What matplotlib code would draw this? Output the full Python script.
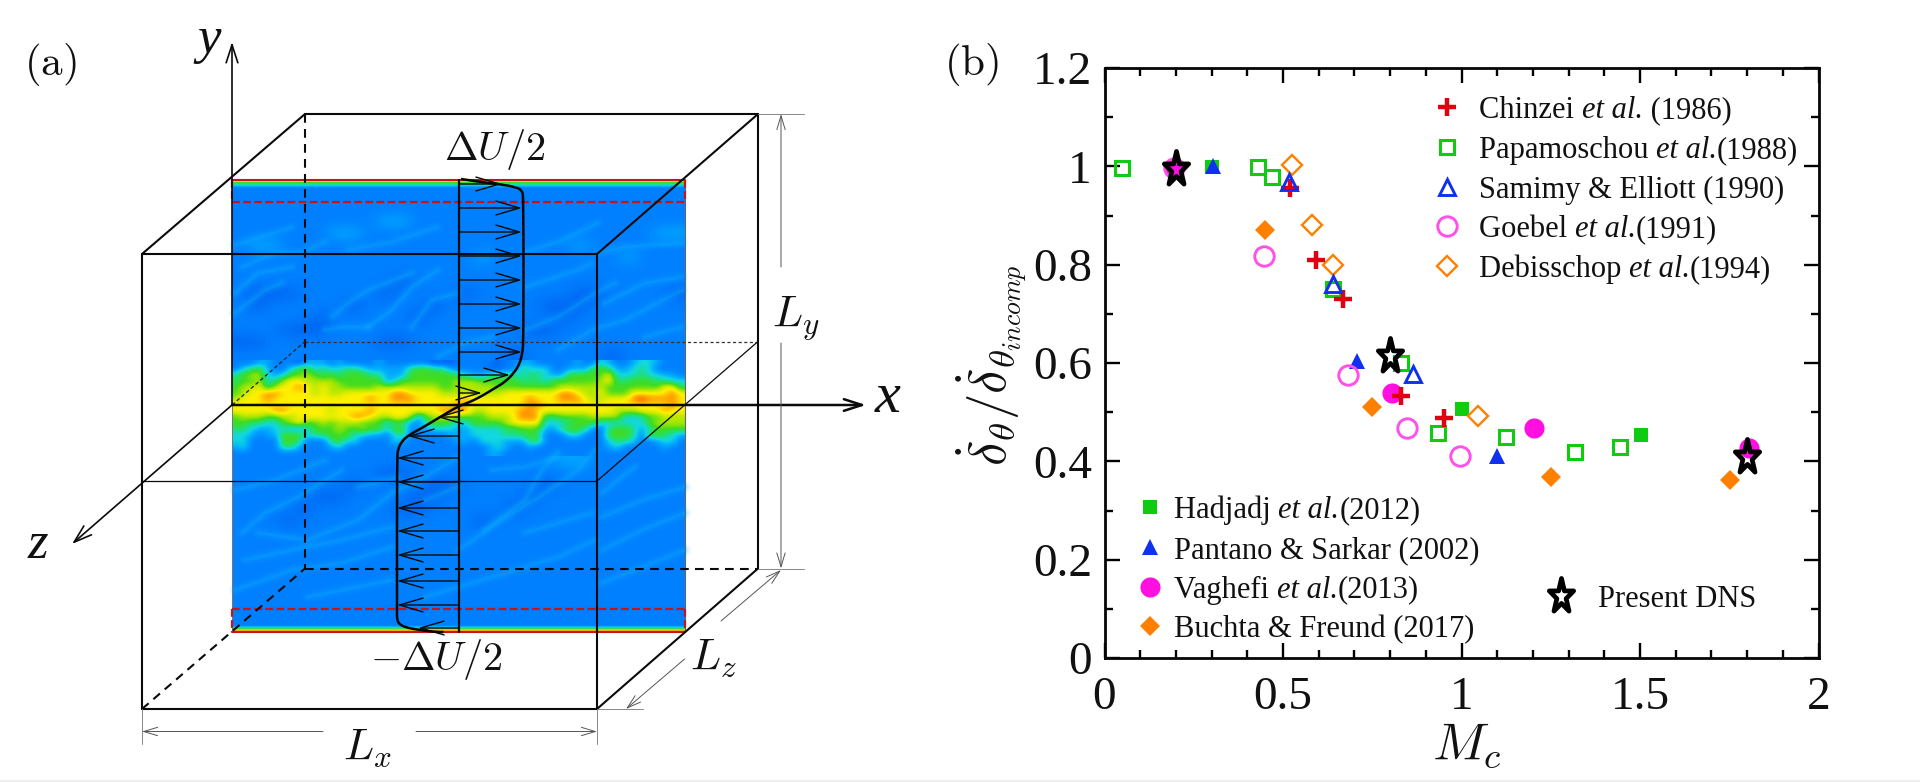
import numpy as np
import matplotlib
matplotlib.use("Agg")
import matplotlib.pyplot as plt
from matplotlib.colors import LinearSegmentedColormap
from matplotlib.markers import MarkerStyle
from matplotlib.path import Path
from matplotlib.patches import PathPatch, Rectangle
from matplotlib.transforms import Affine2D

plt.rcParams['font.family'] = ['Liberation Serif', 'DejaVu Serif']
plt.rcParams['mathtext.fontset'] = 'cm'

W, H = 1920, 782

# ---------- panel (b) data ----------
chinzei_x = [0.521, 0.593, 0.669, 0.83, 0.95]
chinzei_y = [0.956, 0.81, 0.73, 0.533, 0.489]
papam_x = [0.05, 0.43, 0.47, 0.64, 0.83, 0.935, 1.125, 1.317, 1.445]
papam_y = [0.996, 0.998, 0.978, 0.75, 0.60, 0.458, 0.45, 0.42, 0.43]
samimy_x = [0.518, 0.64, 0.865]
samimy_y = [0.968, 0.76, 0.577]
goebel_x = [0.195, 0.446, 0.683, 0.846, 0.997]
goebel_y = [0.996, 0.818, 0.575, 0.467, 0.41]
debis_x = [0.525, 0.58, 0.64, 1.045]
debis_y = [1.002, 0.88, 0.80, 0.492]
hadjadj_x = [0.30, 1.0, 1.503]
hadjadj_y = [0.998, 0.507, 0.454]
pantano_x = [0.304, 0.707, 1.10]
pantano_y = [1.0, 0.604, 0.41]
vaghefi_x = [0.195, 0.805, 1.204, 1.805]
vaghefi_y = [0.996, 0.54, 0.467, 0.428]
buchta_x = [0.45, 0.748, 1.252, 1.752]
buchta_y = [0.87, 0.51, 0.368, 0.362]
dns_x = [0.2, 0.80, 1.80]
dns_y = [0.994, 0.614, 0.408]

x_ticks = [0, 0.5, 1, 1.5, 2]
x_tick_labels = ['0', '0.5', '1', '1.5', '2']
y_ticks = [0, 0.2, 0.4, 0.6, 0.8, 1, 1.2]
y_tick_labels = ['0', '0.2', '0.4', '0.6', '0.8', '1', '1.2']

# ---------- panel (a) field, hand-read colour levels ----------
field_levels = ['#0048DC', '#0066F4', '#0080FF', '#00A8FF', '#10D8E0', '#20E070',
                '#40DC20', '#B0E800', '#FFF000', '#FF9000', '#F03000']
field_cmap = LinearSegmentedColormap.from_list('field', field_levels)

field_top = [
    "2222222222222222222222222222",
    "2222222222222222222222222222",
    "2222222222222222222222222222",
    "2222222223322222222222222222",
    "2222223322222222222222222233",
    "2332222222222222222223222222",
    "2222222222222223222222223222",
    "2222222222222222222222222222",
    "2222222222122222222222222222",
    "2111222221222212222221122221",
    "2122222122221222222111222222",
    "2222212222212222222212222222",
    "2221112222222222221122222222",
    "1122222221122222222222222222",
    "2222222222222222212222212222",
]
field_band = [
    "2223322213" "3323222232" "2222211122" "2221223322" "2223224322" "3443222",
    "2456322466" "4544554333" "3356655322" "2211225444" "2233366533" "4542222",
    "5677434667" "6565666553" "3366666654" "3355554554" "3366666844" "4544332",
    "5667457887" "7776666663" "4666666677" "7666665554" "6666667855" "6665544",
    "6778578898" "7877666677" "7777776677" "7776666666" "6777777666" "6666885",
    "6788998888" "7877888888" "9988887777" "7777888888" "8998778666" "8888898",
    "7888988888" "8888888988" "9998888889" "8888888988" "8999877888" "9A99998",
    "8888888888" "8888888888" "8888888898" "8888888998" "8888888888" "8888898",
    "8888899888" "8878888988" "8888889999" "7788889988" "8888888877" "7888988",
    "6777667788" "8888899877" "8873677866" "6677789995" "5666677774" "4466777",
    "6655446786" "6767776664" "5532566544" "6666788884" "4456664444" "4467777",
    "5543344334" "6667667664" "6623344433" "4444556663" "3566522566" "5346666",
    "4432336664" "5566644332" "4522222333" "4444555652" "2244222666" "5266543",
    "4422226652" "2256442222" "4322222233" "2444333562" "2222222455" "4223442",
    "3422225532" "2234222222" "2222222222" "2234322322" "2222222342" "2222322",
    "2222222222" "2222222222" "2222222222" "2233222222" "2222222222" "2222222",
]
field_bottom = [
    "2222222222222222222233222222",
    "2222222221122222222222222222",
    "2222222122221122222122222222",
    "2222211222211222221222222222",
    "2222122222112222212222222222",
    "2221222222222221222222222222",
    "2222222222222222222222222222",
    "2222222222222222222222222222",
    "2222222222222222222222222222",
    "2222222222222222222222222222",
    "2222222222222222222222222222",
    "2222222222222222222222222222",
    "2222222222222222222222222222",
    "2222222222222222222222222222",
    "2222222222222222222222222222",
]
edge_top = "A8654322"
edge_bottom = "2223468A"

# light streaks (image pixels)
streaks = [
    [(235, 245), (258, 238), (292, 227)],
    [(242, 267), (275, 253), (302, 252), (325, 242)],
    [(348, 250), (392, 242), (438, 227)],
    [(525, 252), (558, 242), (598, 223)],
    [(598, 253), (625, 247), (682, 243)],
    [(235, 293), (258, 273), (292, 267)],
    [(235, 313), (265, 290), (282, 283)],
    [(332, 317), (348, 303), (368, 290), (412, 273)],
    [(368, 327), (392, 310), (412, 287), (438, 270)],
    [(412, 327), (432, 300), (458, 293)],
    [(325, 330), (342, 327), (368, 327)],
    [(525, 330), (558, 317), (592, 295), (615, 283)],
    [(558, 350), (592, 330), (625, 320), (682, 290)],
    [(605, 303), (645, 283), (682, 277)],
    [(438, 357), (465, 343), (492, 337)],
    [(645, 337), (682, 327)],
    [(525, 287), (578, 270), (592, 263)],
    [(242, 533), (265, 513), (298, 497), (342, 470)],
    [(235, 490), (275, 480), (325, 460)],
    [(258, 533), (308, 540), (358, 520), (392, 493), (425, 477), (458, 457)],
    [(245, 560), (292, 550), (342, 540), (392, 527)],
    [(458, 550), (502, 520), (545, 493), (578, 470), (595, 450)],
    [(485, 530), (525, 500), (542, 470), (558, 452)],
    [(492, 470), (525, 467), (558, 457)],
    [(602, 517), (642, 500), (685, 487)],
    [(602, 550), (642, 530), (685, 513)],
    [(602, 493), (618, 480), (635, 467)],
    [(525, 533), (592, 513)],
    [(235, 590), (292, 570), (342, 563), (392, 547)],
    [(425, 597), (492, 577), (558, 557), (595, 540)],
    [(602, 583), (685, 550)],
    [(308, 597), (392, 580)],
    [(425, 500), (458, 487)],
    [(358, 487), (398, 477)],
]

# ---------- panel (a) sketch geometry (image pixels) ----------
back_l, back_r, back_t, back_b = 305, 758, 114, 568.5
front_l, front_r, front_t, front_b = 142, 597, 254, 709
mid_l, mid_r, mid_t, mid_b = 232, 685, 179.5, 632
mid_y = 405
back_mid_y = 341.5
front_mid_y = 481
red_top_y, red_bot_y = 201.7, 609.3
prof_x = 459
profile_pts = [(461, 179), (480, 182), (502, 184.5), (515, 187), (522, 190), (523.5, 198),
               (523.5, 340), (522.5, 352), (520, 363), (514, 373), (505, 382), (495, 388),
               (482, 396), (470, 402), (459, 406), (445, 414), (432, 422), (420, 429),
               (409, 435), (402, 441), (398, 449), (397, 458), (397, 612), (397, 620),
               (400, 625), (408, 628), (420, 630), (435, 632), (452, 632)]
arrow_y = [184, 208, 232, 256, 280, 304, 328, 352, 375, 393,
           417, 436, 458, 482, 508, 531, 555, 581, 605, 628]
arrow_tip = [502, 522, 522, 522, 522, 522, 522, 522, 510, 482,
             437, 408, 397, 397, 397, 397, 397, 397, 397, 418]

fig = plt.figure(figsize=(W / 100, H / 100), dpi=100, facecolor='white')
a0 = fig.add_axes([0, 0, 1, 1])
a0.set_xlim(0, W)
a0.set_ylim(H, 0)
a0.axis('off')
a0.autoscale(False)


def to_array(rows):
    return np.array([[int(c, 16) for c in r] for r in rows], float)


def paint(rows, y0, y1, interp='bicubic', z=1):
    a0.imshow(to_array(rows), extent=(mid_l, mid_r, y1, y0), aspect='auto', cmap=field_cmap,
              vmin=0, vmax=10, interpolation=interp, zorder=z)


paint(field_top, 179, 360)
paint(field_band, 360, 456)
paint(field_bottom, 456, 632)
paint([c for c in edge_top], 179, 190, 'bilinear', 1.1)
paint([c for c in edge_bottom], 623, 632.5, 'bilinear', 1.1)
for st in streaks:
    xs, ys = zip(*st)
    for width, alpha in [(9, 0.07), (6, 0.09), (3.5, 0.12), (1.8, 0.14)]:
        a0.plot(xs, ys, color='#10B8FF', lw=width, alpha=alpha, zorder=1.2, solid_capstyle='round',
                solid_joinstyle='round')


def seg(x0, y0, x1, y1, lw=1.5, ls='-', c='#0A0A0A', z=3):
    a0.plot([x0, x1], [y0, y1], color=c, lw=lw, ls=ls, zorder=z, solid_capstyle='round', dash_capstyle='butt')


dash = (0, (4.2, 3))
# field border
seg(mid_l, 405, mid_l, mid_b, 0.7, c='#777777', z=2)
seg(mid_r, mid_t, mid_r, mid_b, 0.8, c='#666666', z=2)
# back box
seg(back_l, back_t, back_r, back_t)
seg(back_r, back_t, back_r, back_b)
seg(back_l, back_t, back_l, back_b, ls=dash)
seg(back_l, back_b, back_r, back_b, ls=dash)
seg(front_l, front_b, back_l, back_b, ls=dash)
seg(front_l, front_t, back_l, back_t)
seg(front_r, front_t, back_r, back_t)
seg(front_r, front_b, back_r, back_b)
# front box
seg(front_l, front_t, front_r, front_t)
seg(front_l, front_b, front_r, front_b)
seg(front_l, front_t, front_l, front_b)
seg(front_r, front_t, front_r, front_b)
# mid planes
seg(back_l, back_mid_y, back_r, back_mid_y, 0.9, (0, (2.5, 2)), '#333333')
seg(mid_l, mid_y, back_l, back_mid_y, 0.9, (0, (3, 2)), '#222222')
seg(front_l, front_mid_y, front_r, front_mid_y, 0.9)
seg(front_r, front_mid_y, back_r, back_mid_y, 0.9)
# red sponge boxes
red = '#C81414'
for y0, y1, ysolid, ydash in [(mid_t, red_top_y, mid_t, red_top_y), (red_bot_y, mid_b, mid_b, red_bot_y)]:
    seg(mid_l, ysolid, mid_r, ysolid, 1.5, c=red, z=2.5)
    seg(mid_l, ydash, mid_r, ydash, 1.6, (0, (3.5, 1.5)), red, 2.5)
    seg(mid_l, y0, mid_l, y1, 1.6, (0, (3.5, 1.5)), red, 2.5)
    seg(mid_r, y0, mid_r, y1, 1.6, (0, (3.5, 1.5)), red, 2.5)


def arrow(tail, tip, lw=1.2, hl=1.3, hw=0.42, c='#0A0A0A', z=4):
    a0.annotate('', xy=tip, xytext=tail, zorder=z, annotation_clip=False,
                arrowprops=dict(arrowstyle=f'->,head_length={hl},head_width={hw}', lw=lw, color=c,
                                shrinkA=0, shrinkB=0, mutation_scale=10))


# coordinate axes
arrow((mid_l, mid_y), (mid_l, 42))
arrow((mid_l, mid_y), (866, mid_y), 1.8)
arrow((mid_l, mid_y), (72, 544))

# profile
seg(prof_x, mid_t, prof_x, mid_b, 1.6)
for yy, tip in zip(arrow_y, arrow_tip):
    arrow((prof_x, yy), (tip, yy), 1.0, 1.7, 0.5)
p = np.array(profile_pts, float)
mids = (p[:-1] + p[1:]) / 2
verts = [p[0]]
codes = [Path.MOVETO]
for i in range(1, len(p) - 1):
    verts += [p[i], mids[i]]
    codes += [Path.CURVE3, Path.CURVE3]
a0.add_patch(PathPatch(Path(verts, codes), fc='none', ec='#050505', lw=1.8, zorder=5))

# dimension lines
grey = '#555555'
seg(back_r, back_t, 804, back_t, 0.7, c='#888888')
seg(back_r, back_b, 804, back_b, 0.7, c='#888888')
arrow((781, 267), (781, back_t), 0.7, 1.0, 0.3, grey)
arrow((781, 343), (781, back_b), 0.7, 1.0, 0.3, grey)
seg(front_l, front_b, front_l, 744, 0.7, c='#888888')
seg(front_r, front_b, front_r, 744, 0.7, c='#888888')
seg(front_r, front_b, 643, front_b, 0.7, c='#888888')
arrow((323, 731.5), (front_l, 731.5), 0.7, 1.0, 0.3, grey)
arrow((416, 731.5), (front_r, 731.5), 0.7, 1.0, 0.3, grey)
arrow((721, 621), (781, 570), 0.7, 1.0, 0.3, grey)
arrow((684.6, 659), (626, 709), 0.7, 1.0, 0.3, grey)


def label(x, y, s, size, **kw):
    a0.text(x, y, s, fontsize=size, ha='center', va='center', color='#111111', zorder=6, **kw)


label(50, 64, r'$\mathrm{(a)}$', 31)
label(972, 64, r'$\mathrm{(b)}$', 31)
label(209, 40, 'y', 38, style='italic')
label(888, 398, 'x', 42, style='italic')
label(38, 545, 'z', 38, style='italic')
label(495, 150, r'$\Delta U/2$', 29)
label(436, 659, r'$-\Delta U/2$', 29)
label(796, 318, r'$L_y$', 32)
label(367, 748, r'$L_x$', 32)
label(713, 658, r'$L_z$', 32)

# ---------- panel (b) ----------
ax_l, ax_r, ax_t, ax_b = 1104.5, 1818.5, 68, 658
ax = fig.add_axes([ax_l / W, 1 - ax_b / H, (ax_r - ax_l) / W, (ax_b - ax_t) / H])
ax.patch.set_alpha(0)
ax.set_xlim(0, 2)
ax.set_ylim(0, 1.2)
for s in ax.spines.values():
    s.set_linewidth(2.0)
    s.set_color('#050505')
ax.set_xticks(x_ticks, x_tick_labels)
ax.set_yticks(y_ticks, y_tick_labels)
ax.set_xticks(np.arange(0, 2.01, 0.1), minor=True)
ax.set_yticks(np.arange(0, 1.21, 0.1), minor=True)
ax.tick_params(which='major', direction='in', length=11, width=1.7, top=True, right=True, labelsize=34, pad=9)
ax.tick_params(which='minor', direction='in', length=6, width=1.7, top=True, right=True)
ax.tick_params(axis='x', which='major', pad=13)
for t in ax.get_xticklabels() + ax.get_yticklabels():
    t.set_color('#111111')

GREEN, BLUE, MAG, ORG, RED = '#10CC10', '#1030F0', '#FF10E0', '#FF8000', '#E00010'
star_path = MarkerStyle('*').get_path().transformed(Affine2D().scale(0.85, 1.2))
st_pl = dict(marker='+', ms=12.5, mew=3.2, color=RED, ls='none')
st_ps = dict(marker='s', ms=10.5, mew=2.2, mfc='none', mec=GREEN, ls='none')
st_st = dict(marker='^', ms=11, mew=2.1, mfc='none', mec=BLUE, ls='none')
st_gc = dict(marker='o', ms=14, mew=2.1, mfc='none', mec='#FF50E8', ls='none')
st_dd = dict(marker='D', ms=10, mew=1.7, mfc='none', mec=ORG, ls='none')
st_hj = dict(marker='s', ms=10.5, mew=0, color=GREEN, ls='none')
st_pa = dict(marker='^', ms=12, mew=0, color=BLUE, ls='none')
st_va = dict(marker='o', ms=14.5, mew=0, color=MAG, ls='none')
st_bu = dict(marker='D', ms=10, mew=0, color=ORG, ls='none')
st_dn = dict(marker=star_path, ms=26, mew=3.4, mfc='none', mec='#000000', ls='none')

ax.plot(hadjadj_x, hadjadj_y, zorder=3, **st_hj)
ax.plot(vaghefi_x, vaghefi_y, zorder=3, **st_va)
ax.plot(pantano_x, pantano_y, zorder=3.1, **st_pa)
ax.plot(buchta_x, buchta_y, zorder=3, **st_bu)
ax.plot(papam_x, papam_y, zorder=3.2, **st_ps)
ax.plot(goebel_x, goebel_y, zorder=3.2, **st_gc)
ax.plot(debis_x, debis_y, zorder=3.2, **st_dd)
ax.plot(chinzei_x, chinzei_y, zorder=3.3, **st_pl)
ax.plot(samimy_x, samimy_y, zorder=3.4, **st_st)
ax.plot(dns_x, dns_y, zorder=4, **st_dn)

a0.set_zorder(2)
ax.set_zorder(3)

# axis titles
a0.text(1467, 746, r'$M_c$', fontsize=38, ha='center', va='center', color='#111111', zorder=6)
a0.text(992, 365, r'$\dot{\delta}_{\theta}/\dot{\delta}_{\theta_{incomp}}$', fontsize=38, rotation=90,
        ha='center', va='center', color='#111111', zorder=6)

# key
LEG = 22
upper = [
    (107, st_pl, 'Chinzei ', 'et al.', ' (1986)'),
    (147, st_ps, 'Papamoschou ', 'et al.', '(1988)'),
    (187, st_st, 'Samimy & Elliott (1990)', '', ''),
    (226, st_gc, 'Goebel ', 'et al.', '(1991)'),
    (266, st_dd, 'Debisschop ', 'et al.', '(1994)'),
]
lower = [
    (507, st_hj, 'Hadjadj ', 'et al.', '(2012)'),
    (547, st_pa, 'Pantano & Sarkar (2002)', '', ''),
    (586.5, st_va, 'Vaghefi ', 'et al.', '(2013)'),
    (626, st_bu, 'Buchta & Freund (2017)', '', ''),
]
renderer = fig.canvas.get_renderer()


def key(rows, xm, xt):
    for y, st, a, b, c in rows:
        a0.plot([xm], [y], zorder=6, **st)
        x = xt
        for s, style in [(a, 'normal'), (b, 'italic'), (c, 'normal')]:
            if not s:
                continue
            t = a0.text(x, y, s, fontsize=LEG, style=style, ha='left', va='center_baseline', color='#111111', zorder=6)
            x = t.get_window_extent(renderer).x1


key(upper, 1447, 1479)
key(lower, 1150, 1174)
a0.plot([1561], [596], zorder=6, **st_dn)
a0.text(1598, 596, 'Present DNS', fontsize=LEG, ha='left', va='center_baseline', color='#111111', zorder=6)

a0.add_patch(Rectangle((0, 780), W, 2, fc='#EEEEEE', ec='none', zorder=0))

fig.savefig('out.png', dpi=100)
